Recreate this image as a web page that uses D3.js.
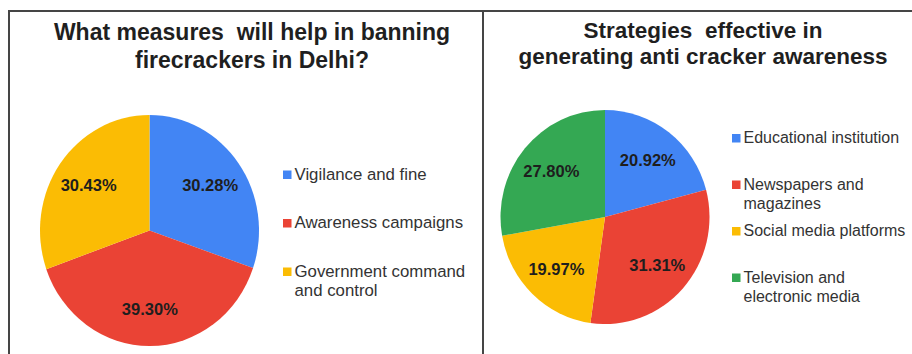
<!DOCTYPE html>
<html>
<head>
<meta charset="utf-8">
<script src="https://cdn.jsdelivr.net/npm/d3@7"></script>
<style>
  html, body { margin: 0; padding: 0; background: #fff; }
  svg { display: block; font-family: "Liberation Sans", Arial, sans-serif; }
</style>
</head>
<body>
<svg id="chart" width="912" height="354"></svg>
<script>
// ---- Data ----
const leftTitle = ["What measures  will help in banning", "firecrackers in Delhi?"];
const leftCategories = ["Vigilance and fine", "Awareness campaigns", "Government command and control"];
const leftValues = [30.28, 39.30, 30.43];
const leftColors = ["#4285F4", "#EA4335", "#FBBC04"];

const rightTitle = ["Strategies  effective in", "generating anti cracker awareness"];
const rightCategories = ["Educational institution", "Newspapers and magazines", "Social media platforms", "Television and electronic media"];
const rightValues = [20.92, 31.31, 19.97, 27.80];
const rightColors = ["#4285F4", "#EA4335", "#FBBC04", "#34A853"];

const svg = d3.select("#chart");

// ---- Panel frame ----
const frame = svg.append("g").attr("stroke", "#454545").attr("stroke-width", 2).attr("fill", "none");
frame.append("line").attr("x1", 8).attr("x2", 912).attr("y1", 11).attr("y2", 11);
frame.append("line").attr("x1", 9).attr("x2", 9).attr("y1", 10).attr("y2", 354);
frame.append("line").attr("x1", 483).attr("x2", 483).attr("y1", 10).attr("y2", 354);

function wrapWords(text, maxW, fontSize) {
  const tmp = svg.append("text").attr("font-size", fontSize).attr("visibility", "hidden");
  const words = text.split(" ");
  const lines = [];
  let cur = "";
  words.forEach(w => {
    const test = cur ? cur + " " + w : w;
    tmp.text(test);
    if (cur && tmp.node().getComputedTextLength() > maxW) {
      lines.push(cur);
      cur = w;
    } else cur = test;
  });
  if (cur) lines.push(cur);
  tmp.remove();
  return lines;
}

function drawPie(cfg) {
  const g = svg.append("g");
  // title
  g.selectAll("text.title").data(cfg.title).join("text")
    .attr("class", "title")
    .attr("x", cfg.titleX)
    .attr("y", (d, i) => cfg.titleY + i * cfg.titleLH)
    .attr("text-anchor", "middle")
    .attr("font-size", cfg.titleFont)
    .attr("font-weight", "bold")
    .attr("fill", "#1f1f1f")
    .style("white-space", "pre")
    .text(d => d);

  const pie = d3.pie().sort(null).value(d => d)
    .startAngle(0).endAngle(2 * Math.PI);
  const arcs = pie(cfg.values);
  const arc = d3.arc().innerRadius(0).outerRadius(cfg.rx);
  const sy = cfg.ry / cfg.rx;

  const pg = g.append("g").attr("transform", `translate(${cfg.cx},${cfg.cy}) scale(1,${sy})`);
  pg.selectAll("path").data(arcs).join("path")
    .attr("d", arc)
    .attr("fill", (d, i) => cfg.colors[i]);

  const labelArc = d3.arc().innerRadius(cfg.rx * cfg.labelR).outerRadius(cfg.rx * cfg.labelR);
  g.selectAll("text.val").data(arcs).join("text")
    .attr("class", "val")
    .attr("x", d => cfg.cx + labelArc.centroid(d)[0])
    .attr("y", d => cfg.cy + labelArc.centroid(d)[1] * sy)
    .attr("dy", "0.36em")
    .attr("text-anchor", "middle")
    .attr("font-size", 16.5)
    .attr("font-weight", "bold")
    .attr("fill", "#1e1e1e")
    .text(d => d.value.toFixed(2) + "%");

  // legend
  const lg = g.append("g");
  cfg.categories.forEach((c, i) => {
    const top = cfg.legY + i * cfg.legStep;
    lg.append("rect")
      .attr("x", cfg.legX).attr("y", top)
      .attr("width", 8.5).attr("height", 8.5)
      .attr("fill", cfg.colors[i]);
    const lines = wrapWords(c, cfg.legMaxW, cfg.legFont);
    lines.forEach((ln, j) => {
      lg.append("text")
        .attr("x", cfg.legX + 11.5)
        .attr("y", top + 9 + j * cfg.legLH)
        .attr("font-size", cfg.legFont)
        .attr("fill", "#333")
        .text(ln);
    });
  });
}

drawPie({
  title: leftTitle, titleX: 252, titleY: 40, titleLH: 28, titleFont: 23,
  values: leftValues, colors: leftColors, categories: leftCategories,
  cx: 149.5, cy: 230.5, rx: 109.5, ry: 115.5, labelR: 0.68,
  legX: 283, legY: 170.5, legStep: 48.5, legFont: 16.8, legLH: 19.5, legMaxW: 180
});

drawPie({
  title: rightTitle, titleX: 703, titleY: 38, titleLH: 25.5, titleFont: 22.5,
  values: rightValues, colors: rightColors, categories: rightCategories,
  cx: 605, cy: 217, rx: 104.5, ry: 107, labelR: 0.67,
  legX: 732, legY: 134, legStep: 46.5, legFont: 16, legLH: 19, legMaxW: 166
});
</script>
</body>
</html>
